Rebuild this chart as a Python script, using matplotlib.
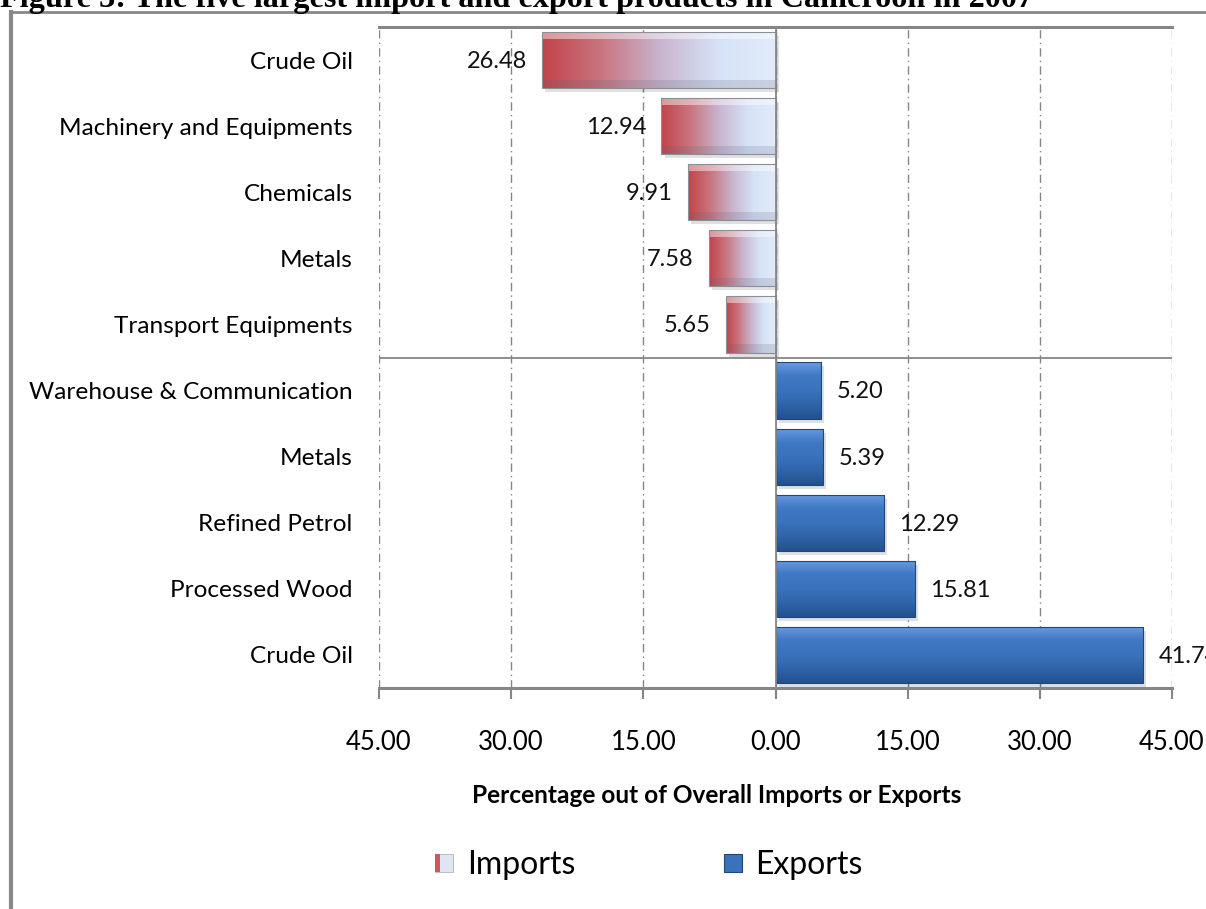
import numpy as np
import matplotlib
matplotlib.use("Agg")
import matplotlib.pyplot as plt
from matplotlib.colors import LinearSegmentedColormap
from matplotlib.patches import Rectangle
from matplotlib.lines import Line2D
from matplotlib.legend_handler import HandlerBase

# data (percent of overall imports / exports, 2007)
import_products = ["Crude Oil", "Machinery and Equipments", "Chemicals", "Metals",
                   "Transport Equipments"]
import_values = [26.48, 12.94, 9.91, 7.58, 5.65]
export_products = ["Warehouse & Communication", "Metals", "Refined Petrol",
                   "Processed Wood", "Crude Oil"]
export_values = [5.20, 5.39, 12.29, 15.81, 41.74]
tick_values = [-45, -30, -15, 0, 15, 30, 45]

plt.rcParams['font.family'] = ['Lato', 'DejaVu Sans']

fig = plt.figure(figsize=(12.06, 9.09), dpi=100)
ax = fig.add_axes([379 / 1206, 1 - 688 / 909, (1172 - 379) / 1206, (688 - 27) / 909])

labels = import_products + export_products
n_imp = len(import_products)
y_imp = np.arange(n_imp)
y_exp = np.arange(n_imp, n_imp + len(export_products))
bar_h = 0.85

# gradient for the import bars: red at the far end, pale blue near zero
imp_cmap = LinearSegmentedColormap.from_list(
    "imp", ["#c2444a", "#c8747e", "#c9b3cc", "#d5e2f7", "#e2ebf9"])
grad = np.linspace(0, 1, 256).reshape(1, -1)

# soft shadows
ax.barh(y_imp + 0.06, [-v for v in import_values], height=bar_h, left=0.35,
        color="#000000", alpha=0.12, zorder=1, linewidth=0)
ax.barh(y_exp + 0.06, export_values, height=bar_h, left=0.35,
        color="#000000", alpha=0.12, zorder=1, linewidth=0)

imp_bars = ax.barh(y_imp, [-v for v in import_values], height=bar_h,
                   facecolor="none", edgecolor="#8a8f9a", linewidth=0.8, zorder=3)
for bar in imp_bars:
    x0, y0, w, h = bar.get_x(), bar.get_y(), bar.get_width(), bar.get_height()
    im = ax.imshow(grad, cmap=imp_cmap, aspect="auto", zorder=2,
                   extent=[x0 + w, x0, y0 + h, y0])
    im.set_clip_path(bar)
    # light top bevel, darker bottom edge
    ax.add_patch(Rectangle((x0 + w, y0), -w, h * 0.12, facecolor="white",
                           alpha=0.45, linewidth=0, zorder=2.5))
    ax.add_patch(Rectangle((x0 + w, y0 + h * 0.85), -w, h * 0.15, facecolor="#5a5f70",
                           alpha=0.18, linewidth=0, zorder=2.5))

# vertical gradient for the export bars
exp_cmap = LinearSegmentedColormap.from_list(
    "exp", ["#6a9be0", "#3f78c4", "#3a72bc", "#2f64a9", "#24518d"])
grad_v = np.linspace(0, 1, 256).reshape(-1, 1)
exp_bars = ax.barh(y_exp, export_values, height=bar_h, facecolor="none",
                   edgecolor="#1f4778", linewidth=0.8, zorder=3)
for bar in exp_bars:
    x0, y0, w, h = bar.get_x(), bar.get_y(), bar.get_width(), bar.get_height()
    im = ax.imshow(grad_v, cmap=exp_cmap, aspect="auto", zorder=2,
                   extent=[x0, x0 + w, y0 + h, y0])
    im.set_clip_path(bar)

# value labels
for y, v in zip(y_imp, import_values):
    ax.annotate(f"{v:.2f}", (-v, y), xytext=(-11, -1), textcoords="offset points",
                ha="right", va="center", fontsize=17, color="#111111")
for y, v in zip(y_exp, export_values):
    ax.annotate(f"{v:.2f}", (v, y), xytext=(11, -1), textcoords="offset points",
                ha="left", va="center", fontsize=17, color="#111111",
                annotation_clip=False)

ax.set_xlim(-45, 45)
ax.set_ylim(len(labels) - 0.5, -0.5)
ax.set_yticks(np.arange(len(labels)))
ax.set_yticklabels(labels, fontsize=17.6)
ax.set_xticks(tick_values)
ax.set_xticklabels([f"{abs(t):.2f}" for t in tick_values], fontsize=18.5)
ax.tick_params(axis="y", length=0, pad=19)
ax.tick_params(axis="x", direction="out", length=8, color="#868686", width=1.5, pad=22)

# dashed gridlines, zero line and separator
for t in tick_values:
    ax.axvline(t, color="#868686", linewidth=1, linestyle=(0, (6, 3, 1, 3)), zorder=0)
ax.axvline(0, color="#868686", linewidth=1.3, zorder=4)
ax.axhline(n_imp - 0.5, color="#868686", linewidth=1.3, zorder=0)

for side in ["left", "right"]:
    ax.spines[side].set_visible(False)
for side in ["top", "bottom"]:
    ax.spines[side].set_color("#868686")
    ax.spines[side].set_linewidth(2.2)

ax.set_xlabel("Percentage out of Overall Imports or Exports", fontsize=17.6,
              fontweight="bold")
ax.xaxis.set_label_coords((717 - 379) / 793, -(784 - 688) / 661)


# legend with small square icons
class HandlerImports(HandlerBase):
    def create_artists(self, legend, orig_handle, xd, yd, w, h, fontsize, trans):
        s = h * 0.8
        x0 = xd + (w - s) / 2
        y0 = yd + (h - s) / 2
        return [Rectangle((x0, y0), s, s, facecolor="#dfe6f2", edgecolor="#b0b4bc",
                          linewidth=0.6, transform=trans),
                Rectangle((x0, y0), s * 0.28, s, facecolor="#c95a60", linewidth=0,
                          transform=trans)]


class HandlerExports(HandlerBase):
    def create_artists(self, legend, orig_handle, xd, yd, w, h, fontsize, trans):
        s = h * 0.8
        x0 = xd + (w - s) / 2
        y0 = yd + (h - s) / 2
        return [Rectangle((x0, y0), s, s, facecolor="#3a72bc", edgecolor="#1f4778",
                          linewidth=0.8, transform=trans)]


h_imp = Rectangle((0, 0), 1, 1)
h_exp = Rectangle((0, 0), 1, 1)
fig.legend([h_imp, h_exp], ["Imports", "Exports"], loc="center",
           bbox_to_anchor=(648 / 1206, 1 - 865 / 909), ncol=2, frameon=False,
           fontsize=23, handlelength=0.7, handletextpad=0.35, columnspacing=4.6,
           handler_map={h_imp: HandlerImports(), h_exp: HandlerExports()})

# outer frame and the clipped title of the source document
fig.add_artist(Line2D([11 / 1206, 1], [1 - 12 / 909, 1 - 12 / 909], color="#888888",
                      linewidth=2, transform=fig.transFigure))
fig.add_artist(Line2D([11 / 1206, 11 / 1206], [0, 1 - 12 / 909], color="#888888",
                      linewidth=3, transform=fig.transFigure))
fig.text(0, 1 - 7 / 909,
         "Figure 3: The five largest import and export products in Cameroon in 2007",
         family="Liberation Serif", fontweight="bold", fontsize=23.2, va="baseline",
         ha="left")

fig.savefig("out.png", dpi=100)
